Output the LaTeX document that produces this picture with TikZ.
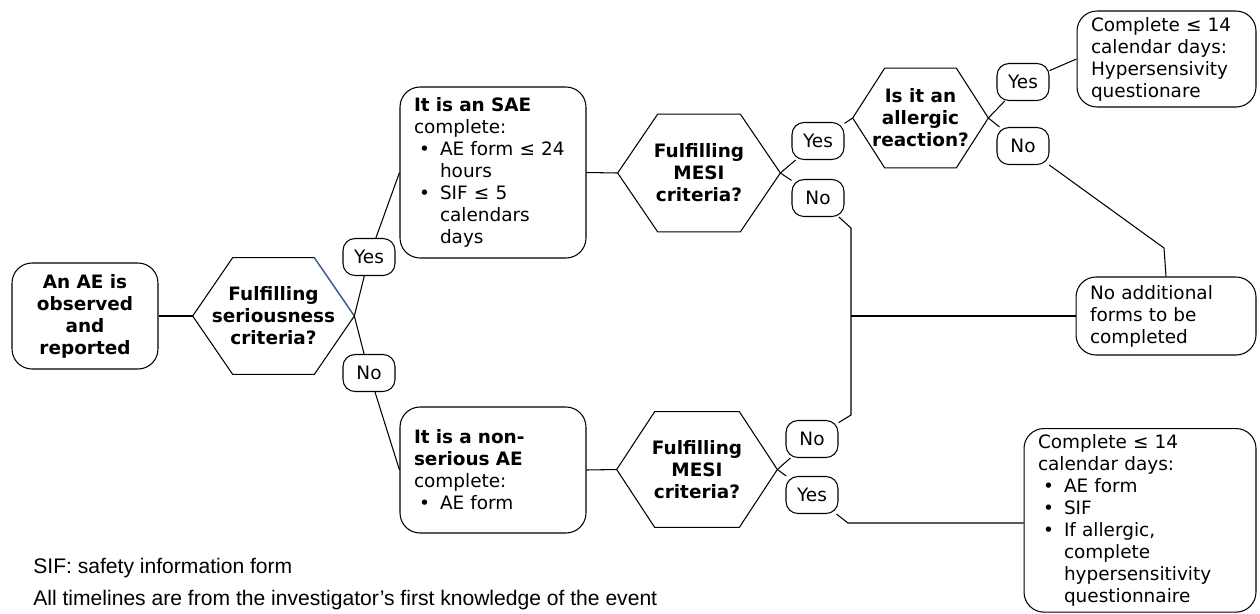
\documentclass[tikz,border=0pt]{standalone}
\usepackage{fontspec}
\setmainfont{DejaVu Sans}
\newfontfamily\notefont{Liberation Sans}
\usetikzlibrary{calc}

\definecolor{edgeblue}{RGB}{70,100,170}
\newcommand\boxfont{\fontsize{10.5}{12.5}\selectfont}
% bullet item with hanging indent
\newcommand\blt[1]{\par\hangindent=0.52cm\hangafter=1\noindent
  \makebox[0.52cm][l]{\hspace{0.1cm}\textbullet}#1}

\tikzset{
  box/.style={draw, rounded corners=0.4cm, font=\boxfont, line width=0.6pt},
  txtbox/.style={box, align=left, inner xsep=0.28cm, text width=#1},
  hexa/.style={font=\boxfont\bfseries, align=center, inner sep=0pt},
  lbl/.style={draw, rounded corners=0.24cm, minimum width=1.04cm,
    minimum height=0.74cm, inner sep=0pt, font=\boxfont, line width=0.6pt},
  link/.style={line width=0.6pt},
  blueedge/.style={line width=0.7pt, color=edgeblue},
  note/.style={font=\notefont\fontsize{12}{14}\selectfont, anchor=base west, inner sep=0pt}
}

\begin{document}
\begin{tikzpicture}[x=0.02cm, y=-0.02cm]
  \useasboundingbox (0,0) rectangle (1260,613);

  % start and first decision
  \node[box, minimum width=2.92cm, minimum height=2.12cm, align=center,
    font=\boxfont\bfseries] (start) at (85,316) {An AE is\\observed\\and\\reported};
  \node[hexa, minimum width=3.22cm, minimum height=2.32cm] (h1) at (273.5,316)
    {Fulfilling\\seriousness\\criteria?};

  % serious branch
  \node[txtbox=3.16cm, minimum height=3.42cm] (sae) at (493,172.5)
    {\textbf{It is an SAE}\\complete:\blt{AE form ≤ 24\newline hours}\blt{SIF ≤ 5\newline calendars\newline days}\par};
  \node[hexa, minimum width=3.24cm, minimum height=2.34cm] (h2) at (699,173)
    {Fulfilling\\MESI\\criteria?};
  \node[hexa, minimum width=2.7cm, minimum height=1.98cm] (h3) at (920.5,118)
    {Is it an\\allergic\\reaction?};
  \node[txtbox=3.02cm, minimum height=1.92cm] (hyp) at (1166.5,59)
    {Complete ≤ 14\\calendar days:\\Hypersensivity\\questionare};
  \node[txtbox=3.04cm, minimum height=1.56cm] (nofm) at (1166,316)
    {No additional\\forms to be\\completed};

  % non-serious branch
  \node[txtbox=3.16cm, minimum height=2.52cm] (nse) at (493,470)
    {\textbf{It is a non-}\\\textbf{serious AE}\\complete:\blt{AE form}\par};
  \node[hexa, minimum width=3.2cm, minimum height=2.3cm] (h4) at (697,469.5)
    {Fulfilling\\MESI\\criteria?};
  \node[txtbox=4.08cm, anchor=north, inner ysep=0.12cm] (fin) at (1140,428)
    {Complete ≤ 14\\calendar days:\blt{AE form}\blt{SIF}\blt{If allergic,\newline complete\newline hypersensitivity\newline questionnaire}\par};

  % hexagon outlines round the decision texts
  \foreach \h/\d in {h1/40, h2/40, h3/32, h4/38}
    \draw[link] (\h.west) -- ([xshift=\d*0.02cm]\h.north west)
      -- ([xshift=-\d*0.02cm]\h.north east) -- (\h.east)
      -- ([xshift=-\d*0.02cm]\h.south east)
      -- ([xshift=\d*0.02cm]\h.south west) -- cycle;
  \draw[blueedge] ([xshift=-0.8cm]h1.north east) -- (h1.east);

  % yes / no tags
  \foreach \n/\t/\x/\y in {y1/Yes/369/257, n1/No/369/373, y2/Yes/818/141,
      n2/No/818/198, y3/Yes/1023/82, n3/No/1023/146, n4/No/812/439, y4/Yes/812/495}
    \node[lbl] (\n) at (\x,\y) {\t};

  \coordinate (j1) at (851,228);
  \coordinate (j2) at (851,415);
  \coordinate (j3) at (851,316);
  \coordinate (j4) at (1164,248);
  \coordinate (j5) at (848,523);

  % connectors
  \draw[link] (start) -- (h1);
  \draw[link] (h1.east) -- (y1) -- (sae.west);
  \draw[link] (h1.east) -- (n1) -- (nse.west);
  \draw[link] (sae.east) -- (h2.west);
  \draw[link] (h2.east) -- (y2) -- (h3.west);
  \draw[link] (h2.east) -- (n2) -- (j1) -- (j2) -- (n4) -- (h4.east);
  \draw[link] (j3) -- (nofm.west);
  \draw[link] (h3.east) -- (y3) -- (hyp.west);
  \draw[link] (h3.east) -- (n3) -- (j4) -- (nofm.north);
  \draw[link] (nse.east) -- (h4.west);
  \draw[link] (h4.east) -- (y4) -- (j5) -- (j5 -| fin.west);

  % notes
  \node[note] (fn1) at (33,573) {SIF: safety information form};
  \node[note] (fn2) at (33,605) {All timelines are from the investigator’s first knowledge of the event};
\end{tikzpicture}
\end{document}
